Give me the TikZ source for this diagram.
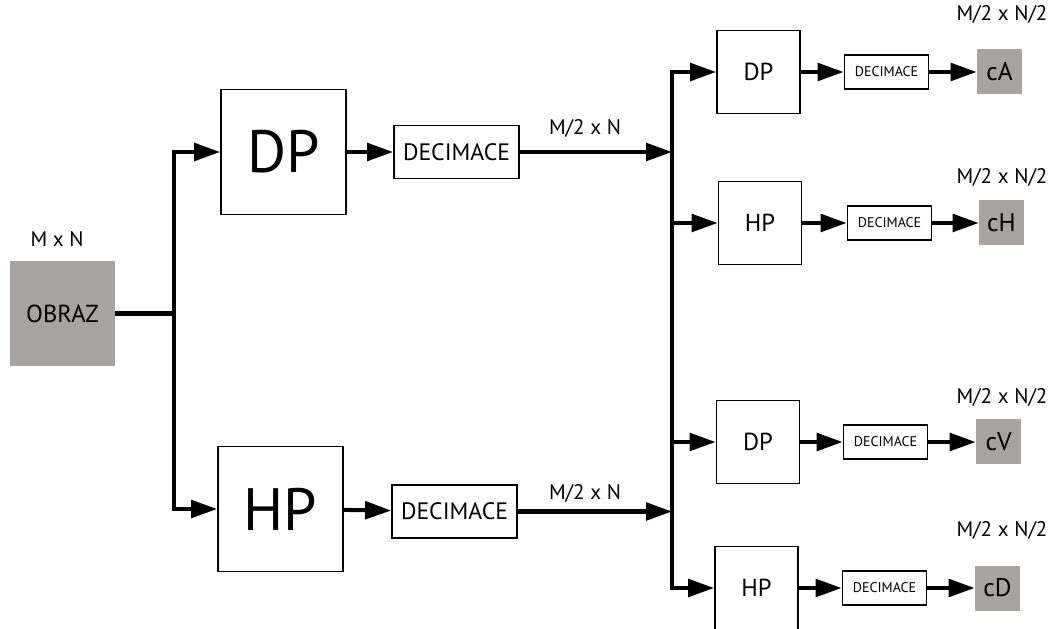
\documentclass[tikz,border=0pt]{standalone}
\usepackage{fontspec}
\setmainfont{PT Sans}
\usepackage{tikz}
\usetikzlibrary{arrows.meta,positioning}
\definecolor{imgray}{HTML}{A7A3A1}

\begin{document}
\begin{tikzpicture}[
  bigbox/.style={draw,line width=1pt,minimum width=2.5cm,minimum height=2.5cm,
    inner sep=0pt,font=\fontsize{34}{34}\selectfont},
  smallbox/.style={draw,line width=1pt,minimum width=1.66cm,minimum height=1.66cm,
    inner sep=0pt,font=\fontsize{14}{14}\selectfont},
  decbig/.style={draw,line width=1pt,minimum width=2.5cm,minimum height=1.06cm,
    inner sep=0pt,font=\fontsize{13.5}{13.5}\selectfont},
  decsmall/.style={draw,line width=1pt,minimum width=1.68cm,minimum height=0.69cm,
    inner sep=0pt,font=\fontsize{8}{8}\selectfont},
  band/.style={fill=imgray,inner sep=0pt,minimum width=0.9cm,minimum height=0.9cm,
    font=\fontsize{14.5}{14.5}\selectfont},
  size/.style={inner sep=0pt,font=\fontsize{12}{12}\selectfont},
  wire/.style={line width=2.3pt},
  arr/.style={-{Triangle[length=5.2mm,width=3.5mm]},line width=2.3pt}]
  \useasboundingbox (0,0) rectangle (21.14,12.56);

  \node[band,minimum width=2.1cm,minimum height=2.1cm,font=\fontsize{14}{14}\selectfont]
    (obraz) at (1.25,6.29) {OBRAZ};
  \node[size] (mn) at (1.14,7.78) {M x N};

  \node[bigbox] (dp) at (5.67,9.52) {DP};
  \node[bigbox] (hp) at (5.61,2.38) {HP};
  \node[decbig] (dec1) at (9.13,9.52) {DECIMACE};
  \node[decbig] (dec2) at (9.09,2.33) {DECIMACE};
  \node[size] (lab1) at (11.7,10.0) {M/2 x N};
  \node[size] (lab2) at (11.7,2.7) {M/2 x N};

  \coordinate (j1) at (3.48,6.29);
  \coordinate (j2a) at (13.44,9.52);
  \coordinate (j2b) at (13.44,2.33);

  \node[smallbox] (dpa) at (15.17,11.12) {DP};
  \node[smallbox] (hpa) at (15.20,8.10) {HP};
  \node[smallbox] (dpb) at (15.16,3.72) {DP};
  \node[smallbox] (hpb) at (15.13,0.80) {HP};

  \node[decsmall] (deca) at (17.73,11.12) {DECIMACE};
  \node[decsmall] (decb) at (17.79,8.10) {DECIMACE};
  \node[decsmall] (decc) at (17.71,3.72) {DECIMACE};
  \node[decsmall] (decd) at (17.69,0.80) {DECIMACE};

  \node[band] (ca) at (19.99,11.12) {cA};
  \node[band] (ch) at (20.03,8.10) {cH};
  \node[band] (cv) at (19.97,3.72) {cV};
  \node[band] (cd) at (19.95,0.80) {cD};

  \node[size] (sa) at (20.04,12.28) {M/2 x N/2};
  \node[size] (sh) at (20.04,9.02) {M/2 x N/2};
  \node[size] (sv) at (20.04,4.62) {M/2 x N/2};
  \node[size] (sd) at (20.04,1.96) {M/2 x N/2};

  \draw[wire] (obraz) -- (j1);
  \draw[arr] (j1) |- (dp);
  \draw[arr] (j1) |- (hp);
  \draw[arr] (dp) -- (dec1);
  \draw[arr] (hp) -- (dec2);
  \draw[arr] (dec1) -- (j2a);
  \draw[arr] (dec2) -- (j2b);
  \draw[wire] (j2a) -- (j2b);
  \draw[arr] (j2a) |- (dpa);
  \draw[arr] (j2a) |- (hpa);
  \draw[arr] (j2b) |- (dpb);
  \draw[arr] (j2b) |- (hpb);
  \draw[arr] (dpa) -- (deca);
  \draw[arr] (hpa) -- (decb);
  \draw[arr] (dpb) -- (decc);
  \draw[arr] (hpb) -- (decd);
  \draw[arr] (deca) -- (ca);
  \draw[arr] (decb) -- (ch);
  \draw[arr] (decc) -- (cv);
  \draw[arr] (decd) -- (cd);
\end{tikzpicture}
\end{document}
